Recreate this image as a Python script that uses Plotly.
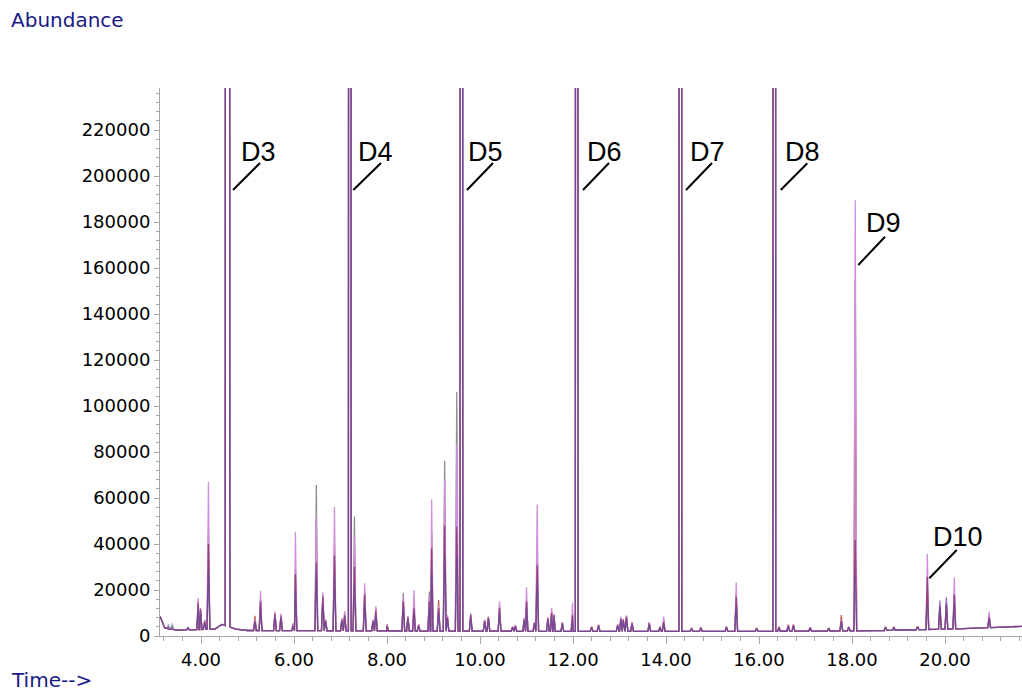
import numpy as np
import plotly.graph_objects as go

# ---- chromatogram data (retention time in min, abundance in counts) ----
baseline_time = [3.12, 3.22, 3.50, 4.30, 4.45, 4.75, 5.00, 8.00, 12.00, 16.00, 18.50, 20.40, 21.66]
baseline_level = [8500, 3500, 2500, 3000, 5000, 3000, 2400, 2200, 2000, 2000, 2300, 3200, 4200]

peak_time = [
    3.30, 3.38, 3.72, 3.94, 3.99, 4.08, 4.16, 4.57, 5.16, 5.28,
    5.59, 5.72, 5.98, 6.03, 6.48, 6.62, 6.68, 6.87, 7.03, 7.09,
    7.20, 7.30, 7.52, 7.70, 7.76, 8.00, 8.35, 8.45, 8.58, 8.68,
    8.91, 8.96, 9.11, 9.24, 9.30, 9.50, 9.60, 9.80, 10.10, 10.18,
    10.42, 10.70, 10.76, 10.95, 11.00, 11.17, 11.23, 11.46, 11.54, 11.59,
    11.77, 11.99, 12.08, 12.40, 12.55, 12.96, 13.03, 13.08, 13.15, 13.27,
    13.64, 13.87, 13.95, 14.31, 14.55, 14.75, 15.30, 15.51, 15.95, 16.33,
    16.43, 16.63, 16.74, 17.10, 17.50, 17.77, 17.93, 18.07, 18.72, 18.90,
    19.41, 19.62, 19.89, 20.03, 20.20, 20.95, 21.30,
]

height_violet = [
    3200, 3200, 3800, 16500, 11500, 6500, 67000, 3500000, 7000, 19700,
    10600, 9800, 5000, 45300, 52600, 19000, 7000, 56200, 7800, 10800,
    2600000, 43000, 22900, 7000, 13000, 5000, 17000, 8800, 20000, 5000,
    17000, 59400, 13000, 68000, 9000, 83000, 2600000, 10000, 7000, 8600,
    15200, 4000, 4800, 8000, 21200, 6000, 57200, 8000, 12300, 9700,
    6000, 14600, 2600000, 4000, 5000, 5000, 8500, 7500, 9000, 6000,
    6000, 4000, 8500, 2600000, 3500, 3800, 4000, 23200, 3500, 2600000,
    4000, 5000, 5000, 3800, 3500, 7000, 4000, 189500, 4000, 4000,
    4400, 35600, 15000, 17100, 25400, 10600, 4000,
]
height_dark = [
    3000, 3000, 3700, 14500, 12000, 6000, 40000, 3500000, 6500, 15000,
    9500, 8500, 4500, 27000, 32000, 17000, 6500, 35000, 7000, 9000,
    2600000, 30000, 18000, 6500, 11000, 4500, 15000, 8000, 12000, 4500,
    15000, 38000, 12000, 48000, 8000, 47500, 2600000, 9000, 6500, 8000,
    12000, 3800, 4300, 7000, 15000, 5500, 31000, 7500, 10000, 9000,
    5500, 9000, 2600000, 3800, 4500, 4500, 7500, 7000, 8500, 5500,
    5500, 3800, 6000, 2600000, 3300, 3600, 3800, 17000, 3300, 2600000,
    3800, 4500, 4600, 3600, 3300, 6500, 3800, 41700, 3800, 3800,
    4000, 25800, 13000, 14000, 18000, 8000, 3800,
]
height_blue = [
    5200, 5600, 3600, 12500, 9500, 5500, 28000, 3500000, 6000, 12000,
    8000, 8000, 4000, 20000, 28000, 14000, 6000, 26000, 6500, 8000,
    2600000, 22000, 14000, 6000, 9000, 4000, 12000, 7000, 10000, 4000,
    12000, 28000, 10000, 35000, 7000, 35000, 2600000, 8000, 6000, 7000,
    10000, 3500, 4000, 6500, 12000, 5000, 24000, 7000, 8500, 8000,
    5000, 7000, 2600000, 3500, 4200, 4500, 7000, 6500, 7000, 5000,
    5000, 3600, 5000, 2600000, 3200, 3500, 3600, 13000, 3200, 2600000,
    3500, 4200, 4300, 3500, 3200, 6000, 3600, 26000, 3600, 3600,
    3800, 14000, 15500, 16500, 14000, 7000, 3600,
]
height_gray = [
    4000, 4200, 3500, 13000, 10500, 7000, 36000, 3500000, 6500, 14000,
    9000, 8500, 4500, 25000, 65600, 16000, 7000, 32000, 7000, 9000,
    2600000, 51900, 17000, 6500, 10000, 4500, 18800, 8000, 12000, 4500,
    19300, 35000, 12000, 76200, 8000, 106200, 2600000, 9000, 6500, 8000,
    12000, 3800, 4300, 7500, 14000, 5500, 30000, 7500, 10000, 9000,
    5500, 8000, 2600000, 3800, 4500, 4500, 7000, 7000, 8000, 5500,
    5500, 3800, 5500, 2600000, 3300, 3600, 3800, 15000, 3300, 2600000,
    3800, 4500, 4600, 3600, 3300, 6500, 3800, 98000, 3800, 3800,
    4000, 20000, 12000, 13000, 16000, 8000, 3800,
]
height_red = [
    3000, 3000, 3800, 15500, 11000, 6500, 45000, 3500000, 8800, 16000,
    10000, 9000, 5500, 30000, 40000, 18000, 7000, 40000, 7500, 10000,
    2600000, 35000, 20000, 7000, 12000, 5000, 16000, 8500, 14000, 5000,
    16000, 45000, 15600, 55000, 8500, 60000, 2600000, 9500, 7000, 8000,
    13000, 4000, 4600, 7500, 16000, 6000, 38000, 8000, 11000, 9000,
    6000, 10000, 2600000, 4000, 4800, 5000, 8000, 7000, 8500, 6000,
    5800, 4000, 7000, 2600000, 3500, 3800, 4200, 18000, 3500, 2600000,
    4000, 4800, 5000, 3800, 3500, 9100, 4000, 155000, 4000, 4000,
    4200, 22000, 13000, 14000, 19000, 9000, 4000,
]

# Peak half-width at the base (min); the solvent peak is broader
NARROW = 0.03
BROAD = {4.57: 0.05}


def chromatogram(heights):
    t = list(baseline_time)
    v = list(baseline_level)
    for pt, h in zip(peak_time, heights):
        w = BROAD.get(pt, NARROW)
        for ft in (pt - w, pt + w):
            t.append(ft)
            v.append(float(np.interp(ft, baseline_time, baseline_level)))
        t.append(pt)
        v.append(h)
    order = np.argsort(t, kind="stable")
    return np.asarray(t)[order], np.asarray(v)[order]


series = [
    ("gray", height_gray, "#8f8f8f", 1.0),
    ("red", height_red, "#c8604f", 1.0),
    ("violet", height_violet, "#cf8fdd", 1.0),
    ("dark", height_dark, "#7a2260", 0.7),
    ("blue", height_blue, "#5252aa", 0.45),
]

fig = go.Figure()
for name, hts, color, op in series:
    x, y = chromatogram(hts)
    fig.add_trace(go.Scatter(
        x=x, y=y, mode="lines", name=name, opacity=op,
        line=dict(color=color, width=1.3), hoverinfo="skip",
    ))

X_RANGE = [3.118, 21.656]
Y_RANGE = [0, 238260]

axis_gray = "#a6a6a6"
tick_font = dict(family="DejaVu Sans, Verdana, sans-serif", size=18, color="#000000")

fig.update_xaxes(
    range=X_RANGE, tick0=0, dtick=2, tickformat=".2f",
    showgrid=False, zeroline=False, showline=True, linecolor=axis_gray, linewidth=1,
    ticks="outside", ticklen=7, tickcolor=axis_gray, tickfont=tick_font,
    minor=dict(dtick=0.4, tick0=0, ticks="outside", ticklen=4, tickcolor=axis_gray, showgrid=False),
)
fig.update_yaxes(
    range=Y_RANGE, tick0=0, dtick=20000, tickformat="d",
    showgrid=False, zeroline=False, showline=True, linecolor=axis_gray, linewidth=1,
    ticks="outside", ticklen=5, tickcolor=axis_gray, tickfont=tick_font,
    minor=dict(dtick=4000, tick0=0, ticks="outside", ticklen=3, tickcolor=axis_gray, showgrid=False),
)

# Compound labels with leader lines
label_font = dict(family="Liberation Sans, Arial, sans-serif", size=27, color="#000000")
labels = [
    # text, text x, text y, line start (x, y), line end (x, y)
    ("D3", 5.226, 210400, (4.688, 193900), (5.269, 205650)),
    ("D4", 7.742, 210400, (7.275, 193900), (7.871, 205650)),
    ("D5", 10.118, 210400, (9.720, 193900), (10.280, 205650)),
    ("D6", 12.667, 210400, (12.215, 193900), (12.774, 205650)),
    ("D7", 14.903, 210400, (14.430, 193900), (14.989, 205650)),
    ("D8", 16.946, 210400, (16.467, 193900), (17.039, 205520)),
    ("D9", 18.667, 179560, (18.135, 161300), (18.710, 173610)),
    ("D10", 20.269, 42830, (19.663, 25090), (20.252, 37390)),
]
for text, tx, ty, (x0, y0), (x1, y1) in labels:
    fig.add_shape(type="line", x0=x0, y0=y0, x1=x1, y1=y1, xref="x", yref="y",
                  line=dict(color="#000000", width=2))
    fig.add_annotation(x=tx, y=ty, xref="x", yref="y", text=text, showarrow=False,
                       font=label_font, xanchor="center", yanchor="middle")

title_font = dict(family="DejaVu Sans, Verdana, sans-serif", size=20, color="#1a1a85")
fig.add_annotation(x=-0.1752, y=1.124, xref="paper", yref="paper", text="Abundance",
                   showarrow=False, font=title_font, xanchor="left", yanchor="middle")
fig.add_annotation(x=-0.1752, y=-0.0803, xref="paper", yref="paper", text="Time-->",
                   showarrow=False, font=title_font, xanchor="left", yanchor="middle")

fig.update_layout(
    width=1022, height=691,
    margin=dict(l=160, r=0, t=88, b=55),
    plot_bgcolor="#ffffff", paper_bgcolor="#ffffff",
    showlegend=False,
)

fig.write_html("out.html")
